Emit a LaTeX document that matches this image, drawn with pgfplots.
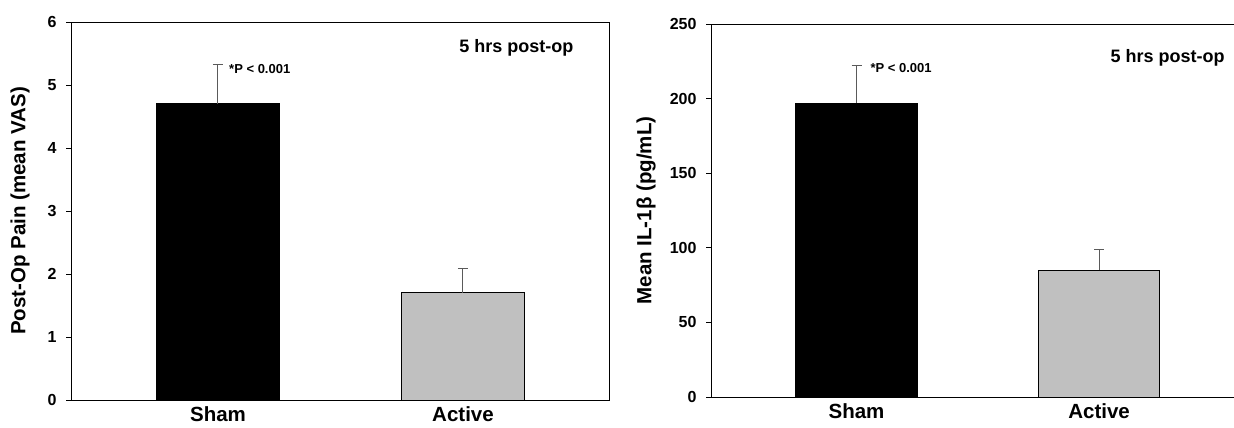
\documentclass[border=0pt]{standalone}
\usepackage{fontspec}
\setmainfont{Liberation Sans}
\usepackage{pgfplots}
\pgfplotsset{compat=1.18}
\definecolor{barg}{HTML}{C0C0C0}
\definecolor{errg}{HTML}{5A5A5A}
\newcommand\fs[1]{\fontsize{#1}{#1}\selectfont\bfseries}
\begin{document}
\begin{tikzpicture}
\useasboundingbox (0,0) rectangle (1234pt,428pt);
\pgfplotsset{
 common/.style={
  scale only axis, ybar, bar shift=0pt, bar width=0.5, ymin=0,
  axis line style={line width=0.9pt, black},
  tick align=outside, major tick length=5pt,
  ytick pos=left, xtick pos=bottom,
  xtick={0,1}, xticklabels={Sham,Active},
  x tick style={draw=none},
  y tick style={line width=0.9pt, black},
  /pgf/number format/assume math mode=true,
  yticklabel style={font=\fs{16}, xshift=-6pt},
  xticklabel style={font=\fs{20.5}, inner sep=1pt},
 },
 sham/.style={fill=black, draw=black, line width=0.9pt,
  error bars/.cd, y dir=plus, y explicit,
  error bar style={errg, line width=1pt},
  error mark options={rotate=90, errg, mark size=5pt, line width=1pt}},
 active/.style={fill=barg, draw=black, line width=0.9pt,
  error bars/.cd, y dir=plus, y explicit,
  error bar style={errg, line width=1pt},
  error mark options={rotate=90, errg, mark size=5pt, line width=1pt}},
}
% Left panel
\begin{axis}[common, at={(71pt,28pt)}, anchor=south west,
  width=538pt, height=378pt,
  xmin=-0.6, xmax=1.596, ymax=6, ytick={0,1,2,3,4,5,6},
  ylabel={Post-Op Pain (mean VAS)},
  every axis y label/.style={at={(rel axis cs:0,0.5)}, xshift=-51pt, rotate=90, anchor=center, font=\fs{20.5}}]
\addplot[sham] coordinates {(0,4.7) +- (0,0.62)};
\addplot[active] coordinates {(1,1.7) +- (0,0.38)};
\node[font=\fs{18}, anchor=base] at (axis cs:1.218,5.508) {5 hrs post-op};
\node[font=\fs{13}, anchor=base west, inner sep=0pt] at (axis cs:0.045,5.186) {*P < 0.001};
\end{axis}
% Right panel
\begin{axis}[common, at={(711pt,31pt)}, anchor=south west,
  width=522.5pt, height=373pt,
  axis y line*=left,
  xmin=-0.6, xmax=1.554, ymax=250, ytick={0,50,100,150,200,250},
  ylabel={Mean IL-1β (pg/mL)},
  every axis y label/.style={at={(rel axis cs:0,0.5)}, xshift=-65pt, rotate=90, anchor=center, font=\fs{20.5}}]
\addplot[sham] coordinates {(0,197) +- (0,25)};
\addplot[active] coordinates {(1,85) +- (0,14)};
\node[font=\fs{18}, anchor=base] at (axis cs:1.282,223.9) {5 hrs post-op};
\node[font=\fs{13}, anchor=base west, inner sep=0pt] at (axis cs:0.057,217.8) {*P < 0.001};
\end{axis}
\end{tikzpicture}
\end{document}
